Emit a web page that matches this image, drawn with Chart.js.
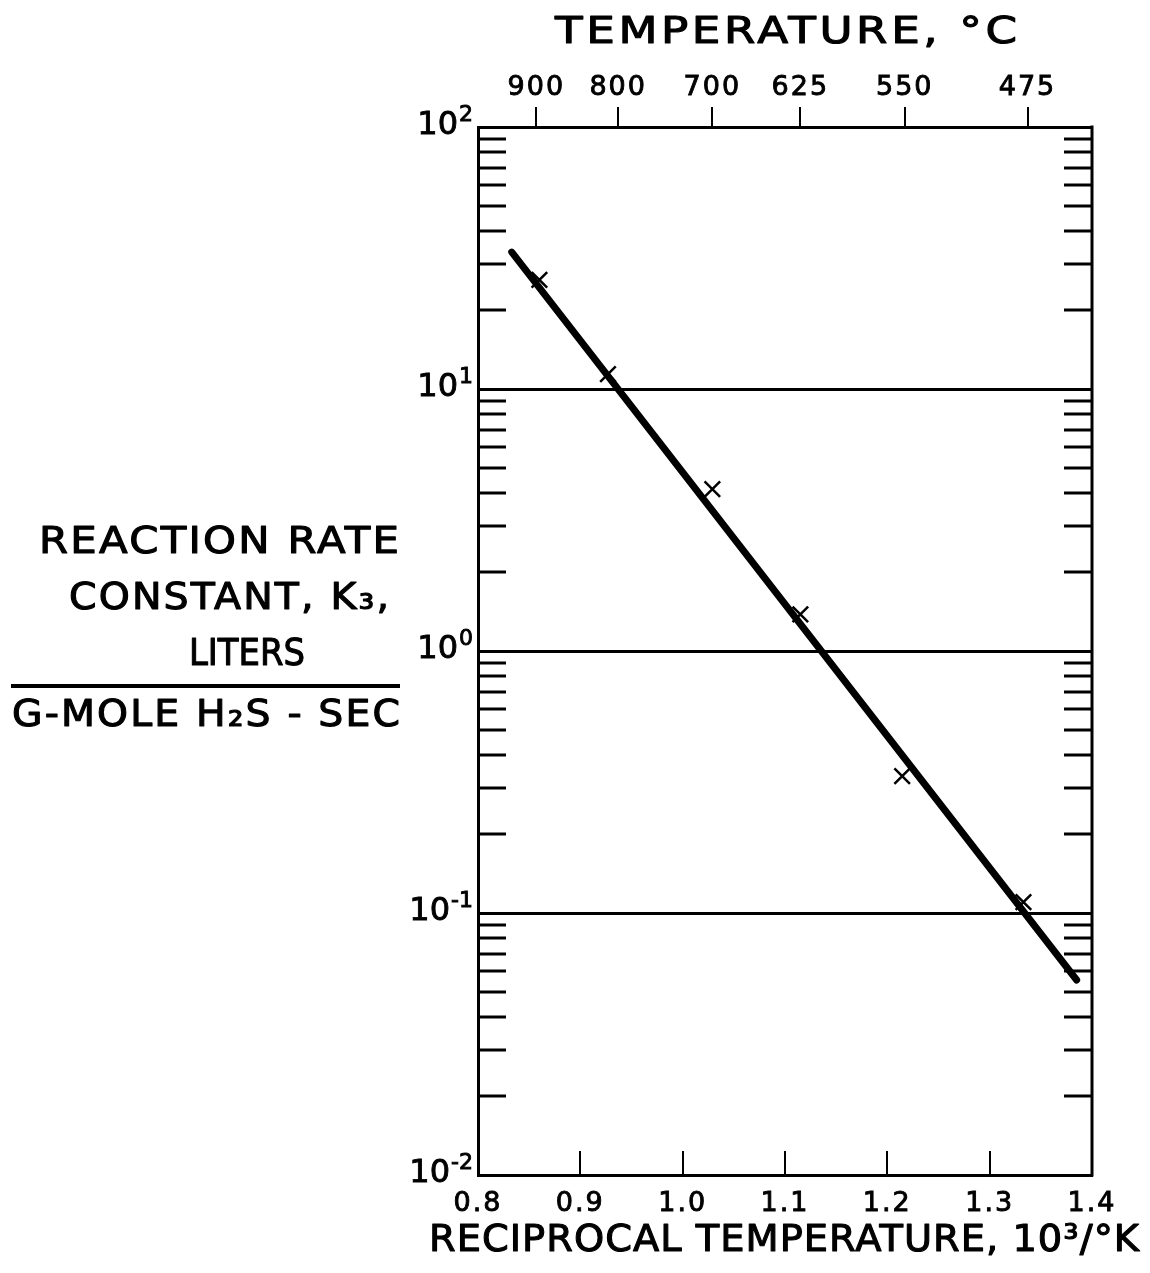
<!DOCTYPE html>
<html><head><meta charset="utf-8">
<script src="https://cdn.jsdelivr.net/npm/chart.js@4/dist/chart.umd.min.js"></script>
<style>html,body{margin:0;padding:0;background:#fff}canvas{display:block}</style>
</head><body>
<canvas id="c" width="1150" height="1273"></canvas>
<script>
// ---- data ----
const xTickValues = [0.8, 0.9, 1.0, 1.1, 1.2, 1.3, 1.4];
const xTickLabels = ['0.8', '0.9', '1.0', '1.1', '1.2', '1.3', '1.4'];
const tempTickPos = [0.857, 0.937, 1.029, 1.115, 1.217, 1.337];
const tempTickLabels = ['900', '800', '700', '625', '550', '475'];
const yTickValues = [0.01, 0.1, 1, 10, 100];
const yTickExponents = ['-2', '-1', '0', '1', '2'];
const yMinorMult = [2, 3, 4, 5, 6, 7, 8, 9];
const pointX = [0.860, 0.927, 1.029, 1.115, 1.2145, 1.333];
const pointK = [26.1, 11.4, 4.15, 1.38, 0.333, 0.110];
const fitX = [0.833, 1.385];
const fitK = [33.3, 0.0555];
const xTitle = 'RECIPROCAL TEMPERATURE, 10³/°K';
const topTitle = 'TEMPERATURE, °C';
const yTitleLines = ['REACTION RATE', 'CONSTANT, K₃,', 'LITERS', 'G-MOLE H₂S - SEC'];

const FONT = '"DejaVu Sans", sans-serif';

// draw text centred at (cx, cy), stretched/compressed horizontally to the given width
function drawFit(ctx, text, cx, cy, font, width, spacing) {
  ctx.save();
  ctx.font = font;
  ctx.letterSpacing = spacing + 'px';
  ctx.textAlign = 'left';
  ctx.textBaseline = 'middle';
  const w = ctx.measureText(text).width - spacing;
  const s = width / w;
  ctx.translate(cx, cy);
  ctx.scale(s, 1);
  ctx.fillText(text, -w / 2, 0);
  ctx.strokeStyle = '#000';
  ctx.lineWidth = 1.1;
  ctx.lineJoin = 'round';
  ctx.strokeText(text, -w / 2, 0);
  ctx.restore();
}

const spacingPlugin = {
  id: 'spacing',
  beforeDraw(chart) { chart.ctx.letterSpacing = '2px'; }
};

const framePlugin = {
  id: 'frame',
  afterDatasetsDraw(chart) {
    const ctx = chart.ctx, a = chart.chartArea;
    const y = chart.scales.y, x = chart.scales.x;
    ctx.save();
    ctx.strokeStyle = '#000';
    ctx.lineWidth = 3;
    ctx.lineCap = 'butt';
    ctx.beginPath(); ctx.moveTo(a.right, a.top - 1.5); ctx.lineTo(a.right, a.bottom + 1.5); ctx.stroke();
    for (let i = 0; i < yTickValues.length - 1; i++) {
      for (const m of yMinorMult) {
        const py = Math.round(y.getPixelForValue(yTickValues[i] * m));
        ctx.beginPath();
        ctx.moveTo(a.left, py); ctx.lineTo(a.left + 28, py);
        ctx.moveTo(a.right, py); ctx.lineTo(a.right - 28, py);
        ctx.stroke();
      }
    }
    ctx.lineWidth = 2;
    for (let i = 1; i < xTickValues.length - 1; i++) {
      const px = Math.round(x.getPixelForValue(xTickValues[i]));
      ctx.beginPath(); ctx.moveTo(px, a.bottom); ctx.lineTo(px, a.bottom - 24); ctx.stroke();
    }
    ctx.restore();
  }
};

const textPlugin = {
  id: 'texts',
  afterDraw(chart) {
    const ctx = chart.ctx, a = chart.chartArea, y = chart.scales.y;
    ctx.save();
    ctx.fillStyle = '#000';
    ctx.strokeStyle = '#000';
    ctx.lineWidth = 0.9;
    // y tick labels: 10 with raised exponent
    yTickValues.forEach((v, i) => {
      const py = y.getPixelForValue(v);
      ctx.letterSpacing = '0px';
      ctx.textBaseline = 'middle';
      ctx.font = '22px ' + FONT;
      const ew = ctx.measureText(yTickExponents[i]).width;
      const ex = a.left - 5 - ew;
      ctx.textAlign = 'left';
      ctx.fillText(yTickExponents[i], ex, py - 12);
      ctx.strokeText(yTickExponents[i], ex, py - 12);
      ctx.font = '32px ' + FONT;
      ctx.textAlign = 'right';
      ctx.fillText('10', ex - 1, py - 1);
      ctx.strokeText('10', ex - 1, py - 1);
    });
    // titles
    drawFit(ctx, topTitle, 786, 33, '38px ' + FONT, 462, 3);
    drawFit(ctx, xTitle, 784, 1241, '38px ' + FONT, 710, 1);
    const cx = [219, 229, 247, 206];
    const cy = [543, 599, 655, 716];
    const tw = [360, 320, 116, 388];
    const sp = [2, 2, 0, 2];
    yTitleLines.forEach((t, i) => drawFit(ctx, t, cx[i], cy[i], '37px ' + FONT, tw[i], sp[i]));
    ctx.lineWidth = 4;
    ctx.beginPath(); ctx.moveTo(11, 686); ctx.lineTo(400, 686); ctx.stroke();
    ctx.restore();
  }
};

new Chart(document.getElementById('c'), {
  type: 'scatter',
  data: {
    datasets: [
      {
        label: 'fit',
        data: fitX.map((v, i) => ({x: v, y: fitK[i]})),
        showLine: true,
        borderColor: '#000',
        borderWidth: 7,
        borderCapStyle: 'round',
        pointRadius: 0,
        xAxisID: 'x', yAxisID: 'y'
      },
      {
        label: 'data',
        data: pointX.map((v, i) => ({x: v, y: pointK[i]})),
        pointStyle: 'crossRot',
        pointRadius: 11,
        pointBorderWidth: 2.5,
        borderColor: '#000',
        backgroundColor: '#000',
        xAxisID: 'x', yAxisID: 'y'
      }
    ]
  },
  options: {
    responsive: false,
    animation: false,
    devicePixelRatio: 1,
    layout: {padding: {left: 0, right: 58, top: 0, bottom: 0}},
    plugins: {legend: {display: false}, tooltip: {enabled: false}},
    scales: {
      x: {
        type: 'linear', position: 'bottom', min: 0.8, max: 1.4,
        afterBuildTicks: s => { s.ticks = xTickValues.map(v => ({value: v})); },
        afterFit: s => { s.height = 98; },
        ticks: {
          autoSkip: false, maxRotation: 0, padding: 7, color: '#000',
          textStrokeColor: '#000', textStrokeWidth: 0.9,
          font: {family: FONT, size: 27, lineHeight: 1},
          callback: (v, i) => xTickLabels[i]
        },
        grid: {display: false},
        border: {display: true, color: '#000', width: 3}
      },
      xTop: {
        type: 'linear', position: 'top', min: 0.8, max: 1.4,
        afterBuildTicks: s => { s.ticks = tempTickPos.map(v => ({value: v})); },
        afterFit: s => { s.height = 127; },
        ticks: {
          autoSkip: false, maxRotation: 0, padding: 6, color: '#000',
          textStrokeColor: '#000', textStrokeWidth: 0.9,
          font: {family: FONT, size: 27, lineHeight: 1},
          callback: (v, i) => tempTickLabels[i]
        },
        grid: {drawOnChartArea: false, drawTicks: true, tickLength: 20, color: '#000', lineWidth: 2},
        border: {display: true, color: '#000', width: 3}
      },
      y: {
        type: 'logarithmic', position: 'left', min: 0.01, max: 100,
        afterBuildTicks: s => { s.ticks = yTickValues.map(v => ({value: v})); },
        afterFit: s => { s.width = 478; },
        ticks: {display: false},
        grid: {color: '#000', lineWidth: 3, drawTicks: false},
        border: {display: true, color: '#000', width: 3}
      }
    }
  },
  plugins: [spacingPlugin, framePlugin, textPlugin]
});
</script>
</body></html>
